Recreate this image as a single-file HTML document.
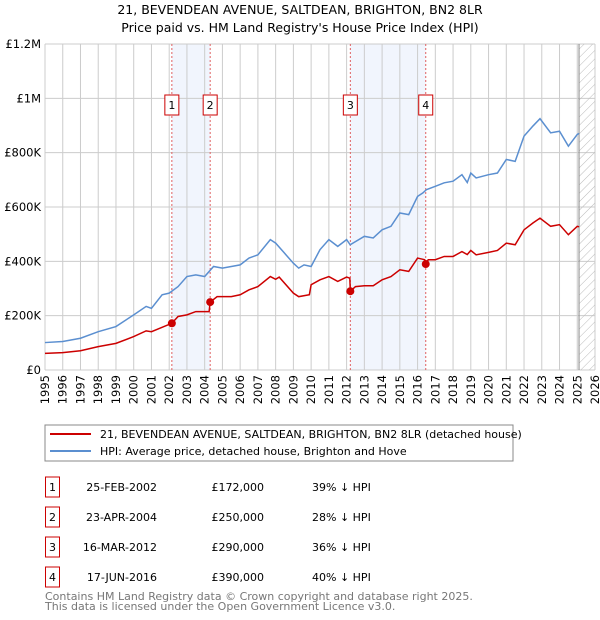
<!DOCTYPE html>
<html><head><meta charset="utf-8"><style>
body{margin:0;background:#fff;font-family:"DejaVu Sans","Liberation Sans",sans-serif;}
svg{display:block}
</style></head><body>
<svg id="c" width="600" height="620" xmlns="http://www.w3.org/2000/svg" font-family="DejaVu Sans, Liberation Sans, sans-serif">
<defs><pattern id="hatch" width="6" height="6" patternUnits="userSpaceOnUse" patternTransform="rotate(45)"><line x1="0" y1="0" x2="0" y2="6" stroke="#bbb" stroke-width="1"/></pattern></defs>
<text x="300" y="14" text-anchor="middle" font-size="12.5">21, BEVENDEAN AVENUE, SALTDEAN, BRIGHTON, BN2 8LR</text>
<text x="300" y="32" text-anchor="middle" font-size="12.5">Price paid vs. HM Land Registry's House Price Index (HPI)</text>
<g id="plot"></g>
<rect x="45" y="425" width="468" height="36" fill="#fff" stroke="#888"/>
<line x1="50" y1="434" x2="91" y2="434" stroke="#cc0000" stroke-width="2"/>
<text x="100" y="438" font-size="11">21, BEVENDEAN AVENUE, SALTDEAN, BRIGHTON, BN2 8LR (detached house)</text>
<line x1="50" y1="451" x2="91" y2="451" stroke="#5b8fd0" stroke-width="2"/>
<text x="100" y="455" font-size="11">HPI: Average price, detached house, Brighton and Hove</text>
<g id="table" font-size="11"></g>
<text x="45" y="600" font-size="11" fill="#777">Contains HM Land Registry data © Crown copyright and database right 2025.</text>
<text x="45" y="610" font-size="11" fill="#777">This data is licensed under the Open Government Licence v3.0.</text>
</svg>
<script>
const hpiYears=[1995,1996,1997,1998,1999,2000,2000.7,2001,2001.6,2002,2002.5,2003,2003.5,2004,2004.5,2005,2005.5,2006,2006.5,2007,2007.7,2008,2008.5,2009,2009.3,2009.6,2010,2010.5,2011,2011.5,2012,2012.2,2013,2013.5,2014,2014.5,2015,2015.5,2016,2016.3,2016.5,2017,2017.5,2018,2018.5,2018.8,2019,2019.3,2020,2020.5,2021,2021.5,2022,2022.5,2022.9,2023.5,2024,2024.5,2025,2025.1];
const hpiValues=[101,105,117,141,160,203,234,227,277,283,307,344,350,344,381,375,381,387,412,424,480,467,430,393,375,387,381,443,480,455,480,461,492,486,516,529,578,572,639,652,664,676,689,695,719,690,725,707,719,725,775,768,861,898,925,873,879,824,867,871];
const ppYears=[1995,1996,1997,1998,1999,2000,2000.7,2001,2002.15,2002.5,2003,2003.5,2004.25,2004.31,2004.7,2005,2005.5,2006,2006.5,2007,2007.7,2008,2008.2,2009,2009.3,2009.9,2010,2010.5,2011,2011.5,2012,2012.18,2012.21,2012.5,2013,2013.5,2014,2014.5,2015,2015.5,2016,2016.4,2016.46,2016.6,2017,2017.5,2018,2018.5,2018.8,2019,2019.3,2020,2020.5,2021,2021.5,2022,2022.5,2022.9,2023.5,2024,2024.5,2025,2025.1];
const ppValues=[61,64,71,86,98,123,144,141,172,197,203,215,215,250,270,270,270,277,295,307,344,334,342,283,270,277,314,332,344,326,342,338,290,307,310,310,332,344,369,363,412,406,390,406,406,418,418,436,425,440,424,433,440,467,461,516,541,559,529,535,498,529,527];
const saleYears=[2002.15,2004.31,2012.21,2016.46];
const saleValues=[172,250,290,390];
const saleLabels=["1","2","3","4"];
const saleDates=["25-FEB-2002","23-APR-2004","16-MAR-2012","17-JUN-2016"];
const salePrices=["£172,000","£250,000","£290,000","£390,000"];
const saleHpi=["39% ↓ HPI","28% ↓ HPI","36% ↓ HPI","40% ↓ HPI"];
const yTicks=[0,200,400,600,800,1000,1200];
const yTickLabels=["£0","£200K","£400K","£600K","£800K","£1M","£1.2M"];
const xStart=1995,xEnd=2026,dataEnd=2025.1;

const L=45,R=595,T=44,B=370;
const X=y=>L+(y-xStart)/(xEnd-xStart)*(R-L);
const Y=v=>B-v/1200*(B-T);
const NS="http://www.w3.org/2000/svg";
const plot=document.getElementById('plot');
function mk(tag,attrs,parent){const e=document.createElementNS(NS,tag);for(const k in attrs)e.setAttribute(k,attrs[k]);(parent||plot).appendChild(e);return e;}

// shaded periods
for(let i=0;i<saleYears.length;i+=2){
  const r=mk('rect',{x:X(saleYears[i]),y:T,width:X(saleYears[i+1])-X(saleYears[i]),height:B-T,fill:'#eef3fc',opacity:0.8});
  
  
}
// grid
for(let yr=xStart;yr<=xEnd;yr++){
  const g=mk('line',{x1:X(yr),x2:X(yr),y1:T,y2:B,stroke:'#ccc','stroke-width':1});
  
  
  const t=mk('text',{x:0,y:0,'font-size':11.5,'text-anchor':'end',transform:`translate(${X(yr)+4},${B+5}) rotate(-90)`});
  t.textContent=yr;
  
  
}
yTicks.forEach((v,i)=>{
  const g=mk('line',{x1:L,x2:R,y1:Y(v),y2:Y(v),stroke:'#ccc','stroke-width':1});
  
  
  const t=mk('text',{x:L-4,y:Y(v)+4,'font-size':11.5,'text-anchor':'end'});
  t.textContent=yTickLabels[i];
  
  
});
// hatched future
const h=mk('rect',{x:X(dataEnd),y:T,width:R-X(dataEnd),height:B-T,fill:'url(#hatch)'});


const dl=mk('line',{x1:X(dataEnd),x2:X(dataEnd),y1:T,y2:B,stroke:'#888','stroke-width':1});


// sale vlines & labels
saleYears.forEach((s,i)=>{
  const l=mk('line',{x1:X(s),x2:X(s),y1:T,y2:B,stroke:'#e06060','stroke-width':1,'stroke-dasharray':'2,2'});
  
  
  const b=mk('rect',{x:X(s)-7,y:95,width:14,height:20,fill:'#fff',stroke:'#cc0000'});
  
  
  const t=mk('text',{x:X(s),y:109,'font-size':11,'text-anchor':'middle'});
  t.textContent=saleLabels[i];
  
  
});
// lines
const hp=mk('polyline',{points:hpiYears.map((y,i)=>X(y)+','+Y(hpiValues[i])).join(' '),fill:'none',stroke:'#5b8fd0','stroke-width':1.5});


const pp=mk('polyline',{points:ppYears.map((y,i)=>X(y)+','+Y(ppValues[i])).join(' '),fill:'none',stroke:'#cc0000','stroke-width':1.5});


saleYears.forEach((s,i)=>{
  const c=mk('circle',{cx:X(s),cy:Y(saleValues[i]),r:4,fill:'#cc0000'});
  
  
});
// table
const tb=document.getElementById('table');
saleLabels.forEach((lab,i)=>{
  const cy=487+i*30;
  const b=mk('rect',{x:45.5,y:cy-10,width:14,height:20,fill:'#fff',stroke:'#cc0000'},tb);
  
  
  const cols=[[52.5,lab,'middle','table-row-number'],[157,saleDates[i],'end','table-sale-date'],[264,salePrices[i],'end','table-sale-price'],[312,saleHpi[i],'start','table-hpi-diff']];
  cols.forEach(c=>{
    const t=mk('text',{x:c[0],y:cy+4,'text-anchor':c[2]},tb);
    t.textContent=c[1];
    
    
  });
});
</script>
</body></html>
